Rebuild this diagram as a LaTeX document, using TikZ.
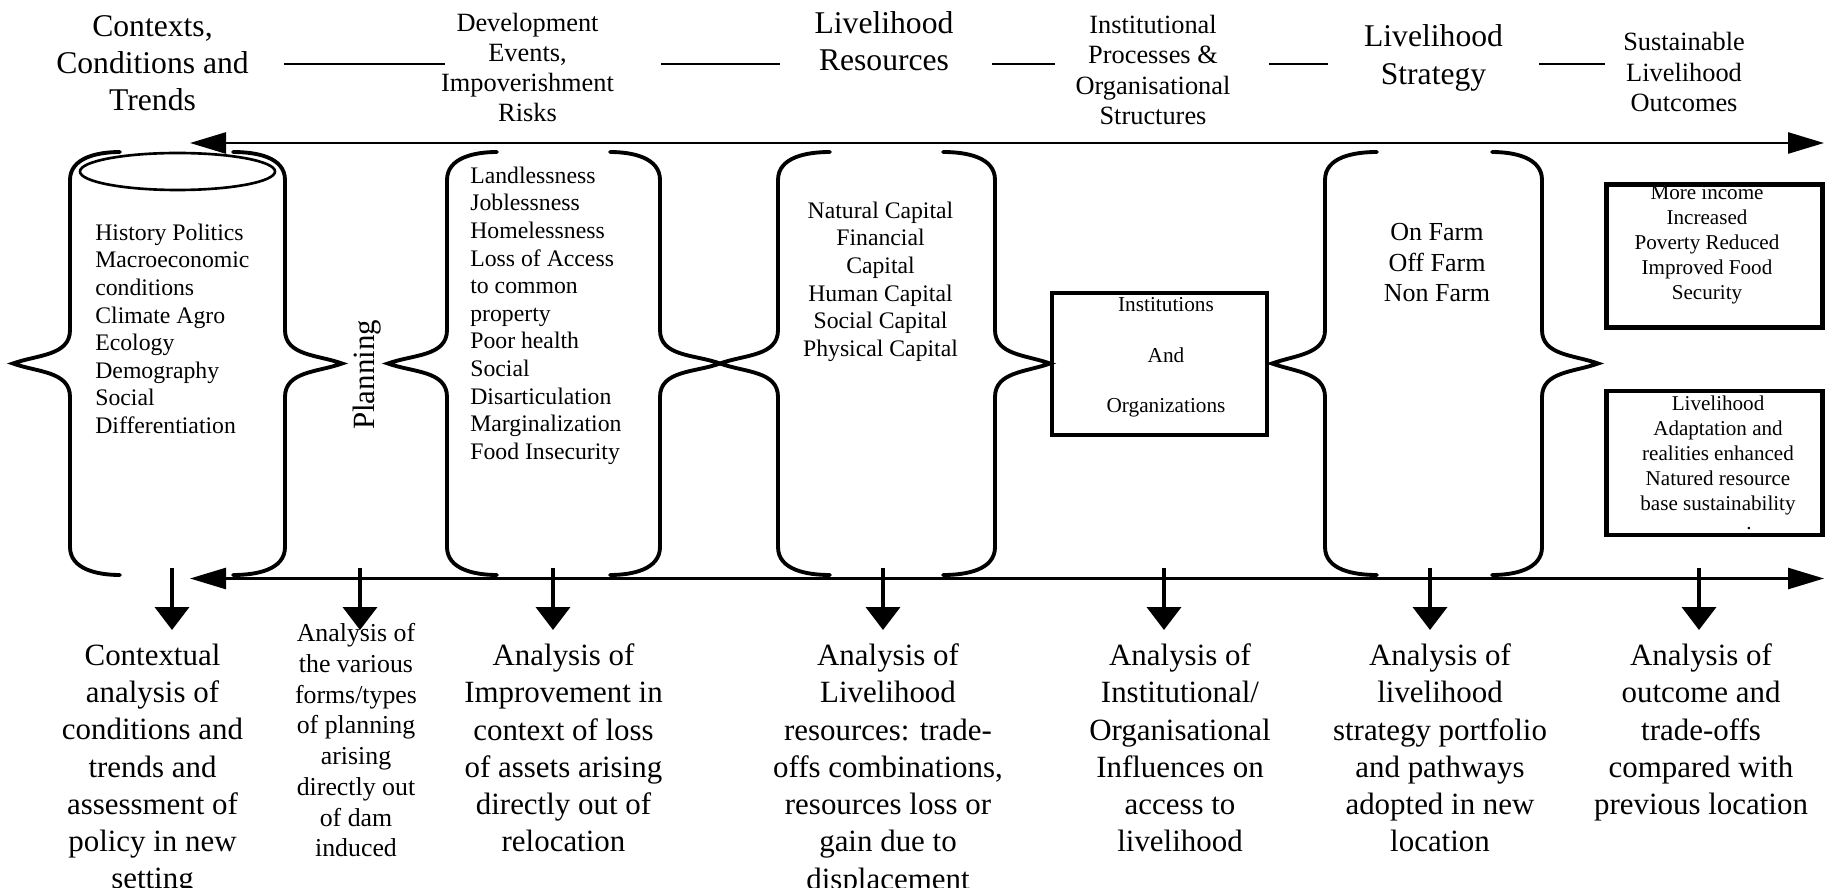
\documentclass[tikz,border=0pt]{standalone}
\usepackage{fontspec}
\setmainfont{Liberation Serif}
\usetikzlibrary{arrows.meta}

\begin{document}
\begin{tikzpicture}[
    heading/.style={align=center, font=\fontsize{18}{21.2}\selectfont},
    subheading/.style={align=center, font=\fontsize{15}{17.2}\selectfont},
    listtext/.style={inner sep=0pt, font=\fontsize{13.5}{15.7}\selectfont},
    panel/.style={rectangle, draw=black, line width=2.3pt, inner sep=0pt},
    paneltext/.style={align=center, anchor=north, inner sep=0pt, font=\fontsize{12}{14.2}\selectfont},
    result/.style={align=center, anchor=north, inner xsep=0pt, inner ysep=0.27cm, font=\fontsize{17.6}{21.2}\selectfont},
    divider/.style={line width=1.5pt},
    timeline/.style={line width=1.5pt, {Triangle[length=0.72cm,width=0.42cm]}-{Triangle[length=0.72cm,width=0.42cm]}},
    droparrow/.style={line width=2.2pt, -{Triangle[length=0.46cm,width=0.68cm]}},
    curl/.style={line width=2.2pt, line cap=round},
    pics/curlopen/.style n args={3}{code={
        \draw[curl] (#3,-3.04) to[out=180,in=90] (#1,-3.6) -- (#1,-6.6)
            to[out=-90,in=20] (#2,-7.27) to[out=-20,in=90] (#1,-7.94) -- (#1,-10.94)
            to[out=-90,in=180] (#3,-11.5);
    }},
    pics/curlclose/.style n args={3}{code={
        \draw[curl] (#3,-3.04) to[out=0,in=90] (#1,-3.6) -- (#1,-6.6)
            to[out=-90,in=160] (#2,-7.27) to[out=200,in=90] (#1,-7.94) -- (#1,-10.94)
            to[out=-90,in=0] (#3,-11.5);
    }}
]
\useasboundingbox (0,0) rectangle (36.52,-17.76);
\clip (0,0) rectangle (36.52,-17.76);

% --- Headings ---
\node (h1) at (3.05,-1.26) [heading] {Contexts,\\Conditions and\\Trends};
\node (h2) at (10.55,-1.35) [subheading] {Development\\Events,\\Impoverishment\\Risks};
\node (h3) at (17.68,-0.83) [heading] {Livelihood\\Resources};
\node (h4) at (23.06,-1.40) [subheading] {Institutional\\Processes \&\\Organisational\\Structures};
\node (h5) at (28.67,-1.16) [heading] {Livelihood\\Strategy};
\node (h6) at (33.68,-1.44) [subheading] {Sustainable\\Livelihood\\Outcomes};

% separators between headings
\draw[divider] (5.68,-1.28) -- (8.90,-1.28);
\draw[divider] (13.22,-1.28) -- (15.60,-1.28);
\draw[divider] (19.84,-1.28) -- (21.10,-1.28);
\draw[divider] (25.38,-1.28) -- (26.56,-1.28);
\draw[divider] (30.78,-1.28) -- (32.10,-1.28);

% --- Braces ---
\pic at (0,0) {curlopen={1.40}{0.26}{2.40}};
\pic at (0,0) {curlclose={5.70}{6.84}{4.66}};
\pic at (0,0) {curlopen={8.94}{7.76}{9.94}};
\pic at (0,0) {curlclose={13.20}{14.40}{12.20}};
\pic at (0,0) {curlopen={15.56}{14.40}{16.60}};
\pic at (0,0) {curlclose={19.90}{21.00}{18.86}};
\pic at (0,0) {curlopen={26.50}{25.44}{27.54}};
\pic at (0,0) {curlclose={30.84}{31.96}{29.84}};

% cylinder top of the first column
\draw[line width=1.5pt] (3.55,-3.43) ellipse [x radius=1.95, y radius=0.37];

% --- Column contents ---
\node (ctx) at (1.90,-4.47) [listtext, anchor=north west, align=left] {History Politics\\Macroeconomic\\conditions\\Climate Agro\\Ecology\\Demography\\Social\\Differentiation};
\node (plan) at (7.34,-7.50) [rotate=90, font=\fontsize{17.6}{21}\selectfont] {Planning};
\node (risk) at (9.40,-3.33) [listtext, anchor=north west, align=left] {Landlessness\\Joblessness\\Homelessness\\Loss of Access\\to common\\property\\Poor health\\Social\\Disarticulation\\Marginalization\\Food Insecurity};
\node (cap) at (17.61,-4.03) [listtext, anchor=north, align=center] {Natural Capital\\Financial\\Capital\\Human Capital\\Social Capital\\Physical Capital};
\node (farm) at (28.74,-4.46) [listtext, anchor=north, align=center, font=\fontsize{14.8}{17.4}\selectfont] {On Farm\\Off Farm\\Non Farm};

% boxes
\node (inst) at (23.19,-7.28) [panel, minimum width=4.31cm, minimum height=2.85cm] {};
\node (insttext) at (23.32,-5.95) [paneltext, font=\fontsize{12.1}{28.5}\selectfont] {Institutions\\And\\Organizations};
\node (out1) at (34.29,-5.12) [panel, line width=2.5pt, minimum width=4.32cm, minimum height=2.86cm] {};
\node (out1text) at (34.14,-3.71) [paneltext] {More income\\Increased\\Poverty Reduced\\Improved Food\\Security};
\node (out2) at (34.29,-9.26) [panel, line width=2.5pt, minimum width=4.32cm, minimum height=2.89cm] {};
\node (out2text) at (34.36,-7.91) [paneltext] {Livelihood\\Adaptation and\\realities enhanced\\Natured resource\\base sustainability\\[-0.12cm]\hspace*{1.24cm}.};

% --- Time lines ---
\coordinate (topL) at (3.80,-2.86);
\coordinate (topR) at (36.48,-2.86);
\coordinate (botL) at (3.80,-11.57);
\coordinate (botR) at (36.48,-11.57);
\draw[timeline] (topL) -- (topR);
\draw[timeline] (botL) -- (botR);

% --- Analyses (bottom) ---
\coordinate (s1) at (3.44,-11.36);
\coordinate (s2) at (7.20,-11.36);
\coordinate (s3) at (11.06,-11.36);
\coordinate (s4) at (17.66,-11.36);
\coordinate (s5) at (23.28,-11.36);
\coordinate (s6) at (28.60,-11.36);
\coordinate (s7) at (33.98,-11.36);

\node (r1) at (3.05,-12.60) [result] {Contextual\\analysis of\\conditions and\\trends and\\assessment of\\policy in new\\setting};
\node (r2) at (7.12,-12.46) [result, inner ysep=0pt, font=\fontsize{14.7}{17.5}\selectfont] {Analysis of\\the various\\forms/types\\of planning\\arising\\directly out\\of dam\\induced};
\node (r3) at (11.27,-12.60) [result] {Analysis of\\Improvement in\\context of loss\\of assets arising\\directly out of\\relocation};
\node (r4) at (17.76,-12.60) [result] {Analysis of\\Livelihood\\resources: trade-\\offs combinations,\\resources loss or\\gain due to\\displacement};
\node (r5) at (23.60,-12.60) [result] {Analysis of\\Institutional/\\Organisational\\Influences on\\access to\\livelihood};
\node (r6) at (28.80,-12.60) [result] {Analysis of\\livelihood\\strategy portfolio\\and pathways\\adopted in new\\location};
\node (r7) at (34.02,-12.60) [result] {Analysis of\\outcome and\\trade-offs\\compared with\\previous location};

\draw[droparrow] (s1) -- (s1 |- r1.north);
\draw[droparrow, shorten >=-0.14cm] (s2) -- (s2 |- r2.north);
\draw[droparrow] (s3) -- (s3 |- r3.north);
\draw[droparrow] (s4) -- (s4 |- r4.north);
\draw[droparrow] (s5) -- (s5 |- r5.north);
\draw[droparrow] (s6) -- (s6 |- r6.north);
\draw[droparrow] (s7) -- (s7 |- r7.north);

\end{tikzpicture}
\end{document}
